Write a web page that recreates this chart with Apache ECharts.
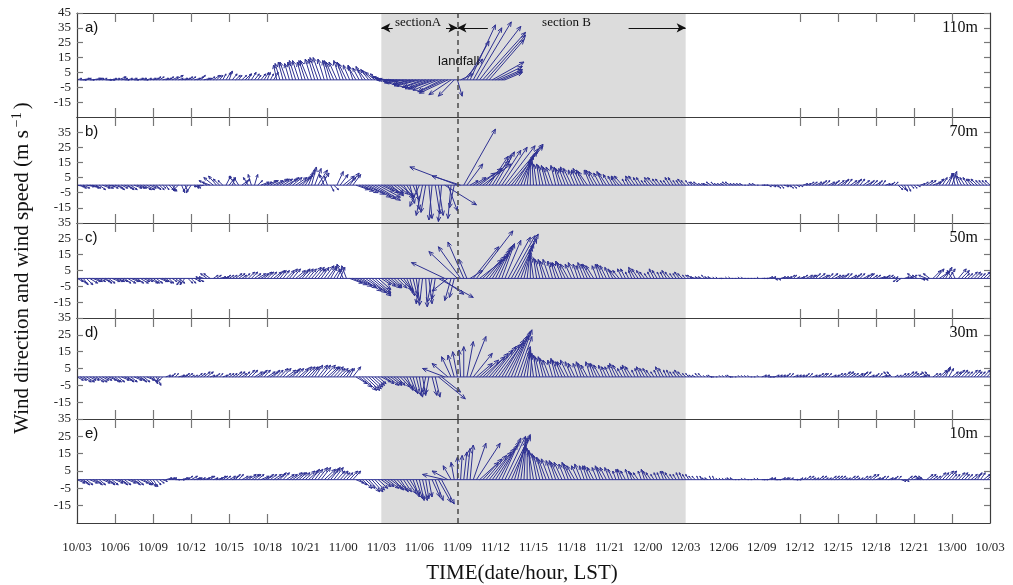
<!DOCTYPE html>
<html>
<head>
<meta charset="utf-8">
<script src="https://cdn.jsdelivr.net/npm/echarts@6/dist/echarts.min.js"></script>
<style>
  html, body { margin: 0; padding: 0; background: #fff; }
  #chart { width: 1013px; height: 585px; }
</style>
</head>
<body>
<div id="chart"></div>
<script>
// Time runs in hours from 10/03 LST; one wind record every 15 minutes.
const STEP_HOURS = 0.25;
const TICK_LABELS = ['10/03','10/06','10/09','10/12','10/15','10/18','10/21','11/00','11/03','11/06','11/09','11/12',
  '11/15','11/18','11/21','12/00','12/03','12/06','12/09','12/12','12/15','12/18','12/21','13/00','10/03'];
const TICK_MARK_HOURS = [3, 6, 9, 12, 15, 57, 60, 63, 66, 69];
const SECTION_A_HOURS = [24, 30];
const SECTION_B_HOURS = [30, 48];
const LANDFALL_HOUR = 30;
const HEIGHT_NAMES = ['110m', '70m', '50m', '30m', '10m'];
const PANEL_TAGS = ['a)', 'b)', 'c)', 'd)', 'e)'];
const Y_TICKS_TALL = [-15, -5, 5, 15, 25, 35, 45];
const Y_TICKS = [-15, -5, 5, 15, 25, 35];

// u (east) and v (north) wind components in m/s, one row per 6 hours
// 110 m (record stops after 11/12)
const U110 = [
  3,4,4,3,3,5,4,3,3,4,4,3,3,5,4,3,3,4,3,4,4,3,3,4,
  4,3,3,4,4,3,4,5,3,4,4,3,3,4,4,3,4,3,3,4,3,2,2,3,
  2,3,3,2,3,4,2,3,3,2,3,3,2,2,3,-2,-3,-3,-4,-3,-3,-4,-4,-3,
  -4,-5,-4,-4,-5,-5,-4,-3,-4,-5,-5,-4,-4,-5,-4,-3,-5,-4,-4,-5,-5,-6,-6,-5,
  -6,-7,-8,-9,-10,-9,-10,-12,-12,-11,-12,-14,-14,-13,-14,-15,-15,-16,-16,-15,-16,-18,-14,-10,
  3,8,12,14,16,18,22,26,27,25,22,20,17,15,13,11];
const V110 = [
  1,0,1,1,0,1,1,1,1,0,0,1,1,2,1,0,1,1,0,1,1,0,1,1,
  1,2,2,1,1,2,2,3,1,1,1,2,2,1,2,3,1,1,2,3,3,3,4,5,
  6,4,3,3,3,4,4,5,4,3,4,5,5,4,5,10,11,12,12,11,12,13,13,12,
  13,13,14,14,15,15,14,13,13,12,12,13,12,11,10,10,9,8,9,7,7,6,5,4,
  2,2,1,0,0,-1,-1,-2,-2,-3,-3,-4,-4,-5,-5,-6,-6,-6,-7,-8,-8,-9,-10,-11,
  -11,4,14,26,37,35,39,36,32,30,27,12,9,7,6,5];

// 70 m
const U70 = [
  5,4,4,5,5,4,3,4,5,5,4,4,5,4,4,5,4,4,5,5,4,5,5,4,
  4,3,3,2,2,4,3,-2,-3,2,2,-3,-3,3,2,-4,-4,-5,-5,-6,-5,-4,-3,3,
  3,2,-4,-3,4,3,-3,-2,2,3,5,5,6,5,6,7,6,6,7,6,6,7,7,6,
  5,4,3,4,6,5,-3,-2,2,3,4,5,7,6,6,5,8,9,10,12,14,15,16,14,
  8,9,10,8,6,7,8,6,5,3,4,2,-6,-4,-3,2,-2,3,3,-2,20,6,-2,-3,
  -30,-18,20,10,5,8,12,14,18,15,12,12,12,14,16,19,22,20,15,12,8,5,2,0,
  -1,-2,-2,-3,-3,-4,-4,-3,-3,-4,-4,-5,-5,-4,-4,-5,-5,-6,-4,-5,-5,-4,-4,-5,
  -4,-3,-3,-5,-5,-2,-2,-4,-4,-3,-3,-2,-2,-4,-4,-3,-3,-2,-2,-3,-3,-2,-2,-3,
  -3,-2,-2,-3,-3,-2,-2,-3,-3,-2,-2,-2,-2,-3,-3,-2,-2,-2,-2,-1,-1,-2,-2,-1,
  2,2,2,3,3,2,2,3,3,2,2,2,2,3,3,3,3,4,4,3,3,4,4,3,
  4,4,3,3,4,4,3,3,4,4,3,3,3,2,2,3,3,2,2,3,3,2,2,2,
  2,2,3,3,4,4,5,5,3,3,4,3,3,-2,-2,-3,-3,-3,-3,-4,-4,-3,-3,-3,
  -3];
const V70 = [
  -1,-2,-2,-1,-1,-2,-2,-3,-2,-2,-1,-2,-2,-3,-2,-2,-3,-3,-2,-2,-2,-3,-3,-2,
  -2,-3,-3,-2,-3,-4,-4,-3,-3,-5,-4,-4,-5,-2,-2,-1,-1,3,2,5,6,4,3,6,
  4,5,6,5,3,4,5,7,7,3,2,2,3,3,3,4,4,4,4,5,5,5,5,6,
  8,10,12,11,10,8,7,6,-4,-3,9,7,6,5,8,7,-3,-4,-5,-6,-8,-9,-10,-8,
  -4,-5,-6,-7,-5,-6,-7,-9,-8,-12,-10,-16,-14,-20,-18,-22,-23,-19,-20,-24,-13,-17,-22,-15,
  12,6,37,14,3,5,8,11,14,16,19,20,22,23,25,26,27,26,24,22,20,18,17,16,
  15,14,14,13,13,12,12,13,12,11,11,12,11,10,10,11,10,9,10,10,9,8,9,8,
  7,6,5,6,6,4,4,6,6,5,5,3,3,5,5,4,4,3,3,5,5,3,3,4,
  3,3,2,2,2,1,1,1,2,2,1,1,1,2,2,1,1,1,1,0,0,1,1,0,
  0,0,-1,-1,-1,-2,-2,-1,-1,-2,-2,-1,-1,1,1,2,2,2,2,3,3,2,2,3,
  3,3,4,4,3,3,4,4,3,2,3,3,2,3,3,1,1,2,2,-3,-3,-4,-4,-2,
  -2,-1,1,2,3,3,2,4,4,5,6,8,9,8,7,6,5,5,4,4,4,3,3,3,
  3];

// 50 m
const U50 = [
  4,4,3,4,5,5,4,4,5,4,4,5,5,4,4,4,5,5,4,4,5,4,4,5,
  4,4,5,4,4,3,3,4,4,-3,-3,3,3,4,4,-3,-3,-4,-4,3,3,4,4,3,
  3,3,4,4,3,3,4,4,4,5,5,5,4,4,5,5,4,4,5,5,5,6,6,5,
  5,5,6,6,5,5,6,6,4,4,3,3,-4,-3,8,9,10,11,12,13,14,12,10,8,
  6,7,8,7,5,6,7,6,4,3,3,2,-2,-2,1,2,-3,-2,22,14,-21,-10,-4,-3,
  -18,-14,-10,-5,8,16,23,18,12,12,12,11,10,9,8,10,14,15,15,12,8,5,2,0,
  -2,-2,-3,-3,-4,-4,-3,-3,-4,-4,-5,-5,-4,-4,-3,-3,-4,-4,-5,-5,-3,-3,-4,-4,
  -3,-3,-4,-4,-3,-3,-2,-2,-4,-4,-3,-3,-2,-2,-3,-3,-2,-2,-3,-3,-2,-2,-3,-3,
  -2,-2,-3,-3,-2,-2,-2,-2,-2,-1,-1,-1,-2,-1,-1,-1,-1,-1,-1,-1,-1,-1,-1,-1,
  2,2,3,3,2,2,3,3,3,3,2,2,3,3,4,4,3,3,4,4,3,3,4,4,
  4,4,3,3,4,4,3,3,4,4,3,3,3,4,4,3,3,2,2,-3,-3,3,3,4,
  -4,-3,3,3,-5,-4,5,5,6,5,4,4,-3,-2,5,5,3,3,4,4,3,3,4,4,
  3];
const V50 = [
  -2,-3,-4,-4,-3,-2,-2,-2,-2,-3,-3,-2,-2,-2,-2,-3,-3,-2,-2,-3,-3,-2,-2,-3,
  -3,-3,-2,-2,-3,-3,-2,-3,-3,-4,-4,-3,-3,-2,-2,1,1,3,3,2,2,1,1,2,
  2,2,3,3,2,3,4,4,3,3,3,4,4,4,4,5,5,5,5,6,6,5,5,6,
  6,6,7,7,6,7,8,8,7,6,6,7,9,8,-3,-4,-5,-6,-8,-9,-11,-10,-9,-7,
  -4,-5,-6,-6,-5,-6,-7,-8,-9,-11,-12,-14,-16,-17,-18,-16,-15,-13,-12,-10,10,-8,-14,-12,
  17,20,23,12,5,20,30,14,12,14,16,18,20,21,22,24,26,27,28,25,22,20,18,16,
  14,13,12,12,11,12,11,10,10,11,10,9,9,10,9,8,10,9,9,8,8,9,9,8,
  7,6,5,5,6,6,4,5,7,6,5,4,3,4,6,5,4,4,5,4,3,3,4,3,
  2,2,2,1,1,1,2,1,1,1,1,0,0,1,1,0,0,1,1,0,0,0,0,1,
  0,0,1,1,-1,-1,1,1,1,2,2,1,1,2,2,2,2,3,3,2,2,3,3,2,
  2,2,3,3,2,2,3,3,2,3,3,2,2,1,1,2,2,1,1,-2,-2,1,1,2,
  3,2,-1,-1,2,3,5,6,4,5,7,6,5,4,6,5,3,3,4,4,3,3,4,4,
  3];

// 30 m
const U30 = [
  4,4,5,5,4,4,5,5,4,4,5,5,4,4,5,5,4,4,5,5,4,4,5,5,
  3,3,-2,-2,3,3,2,2,4,4,3,3,2,2,3,3,4,4,3,3,2,2,3,3,
  3,3,4,4,3,3,4,4,5,5,4,4,5,5,4,4,5,5,6,6,5,5,6,6,
  6,6,5,5,6,6,7,7,6,6,5,5,4,4,3,5,7,8,9,9,8,7,6,5,
  6,6,7,7,5,5,6,6,4,4,3,3,2,2,-2,-2,3,3,17,12,-14,-10,-6,-4,
  -3,-1,0,4,10,12,10,12,14,14,15,15,15,15,14,14,13,12,11,9,6,4,2,1,
  -2,-2,-3,-3,-4,-4,-3,-3,-4,-4,-5,-5,-4,-4,-3,-3,-4,-4,-3,-3,-4,-4,-3,-3,
  -3,-3,-4,-4,-3,-3,-4,-4,-2,-2,-3,-3,-3,-3,-2,-2,-3,-3,-2,-2,-2,-2,-3,-3,
  -2,-2,-2,-2,-2,-2,-1,-1,-2,-2,-1,-1,-1,-1,-2,-2,-1,-1,-1,-1,-1,-1,-1,-1,
  3,3,2,2,3,3,3,3,2,2,3,3,3,3,2,2,3,3,3,3,2,2,3,3,
  3,3,4,4,3,3,4,4,3,3,3,3,2,2,3,3,-3,-3,2,2,3,3,4,4,
  3,3,4,4,-3,-3,3,3,5,5,3,3,4,4,4,4,3,3,4,4,3,3,4,4,
  3];
const V30 = [
  -2,-2,-3,-3,-2,-2,-3,-3,-2,-2,-2,-3,-3,-3,-2,-2,-3,-3,-2,-2,-3,-3,-2,-3,
  -4,-5,-3,-2,1,1,2,2,1,1,2,2,1,1,2,2,3,3,1,1,2,2,1,2,
  2,2,3,3,2,3,4,4,3,3,4,4,3,3,4,4,5,5,4,4,5,5,5,6,
  6,6,6,7,7,7,7,6,6,6,5,5,4,5,5,6,-4,-6,-8,-8,-7,-6,-5,-4,
  -3,-4,-5,-5,-4,-5,-6,-7,-8,-9,-10,-11,-12,-11,-9,-10,-11,-12,-13,-9,5,8,12,13,
  15,16,18,21,24,14,8,10,12,14,16,18,19,20,22,24,25,27,28,24,18,16,15,14,
  14,13,12,12,11,10,10,11,10,9,9,10,9,8,8,9,8,7,9,8,8,7,7,6,
  6,7,8,7,5,6,7,6,4,5,6,5,5,4,3,4,6,5,4,4,3,3,4,3,
  2,2,1,1,2,2,1,1,1,0,0,1,1,1,1,0,0,1,1,1,1,0,0,1,
  1,1,0,0,1,1,1,1,2,2,1,1,1,1,2,2,1,1,2,2,2,2,1,1,
  2,2,3,3,2,2,2,2,3,3,1,1,2,2,1,1,3,3,1,1,2,2,3,3,
  2,2,1,1,3,3,2,2,4,5,6,5,3,3,4,4,3,3,4,4,3,3,4,4,
  3];

// 10 m
const U10 = [
  5,5,4,4,5,5,4,4,5,5,4,4,5,5,4,4,5,5,4,4,5,5,4,4,
  3,3,3,3,4,4,3,3,4,4,3,3,4,4,3,3,4,4,3,3,4,4,3,3,
  4,4,3,3,4,4,5,5,4,4,5,5,4,4,5,5,4,4,5,5,6,6,5,5,
  6,6,5,5,6,6,7,7,6,6,5,5,4,4,5,5,5,5,6,6,7,7,6,6,
  6,6,7,7,6,6,5,5,6,6,4,4,3,3,2,2,5,5,8,8,-14,-10,-5,-2,
  0,1,2,2,2,8,15,12,12,13,14,14,14,13,12,13,14,12,8,5,3,1,0,-1,
  -3,-3,-4,-4,-5,-5,-4,-4,-5,-5,-4,-4,-5,-5,-4,-4,-3,-3,-4,-4,-3,-3,-4,-4,
  -3,-3,-2,-2,-3,-3,-2,-2,-3,-3,-2,-2,-3,-3,-2,-2,-2,-2,-3,-3,-2,-2,-2,-2,
  -2,-2,-2,-2,-1,-1,-2,-2,-1,-1,-1,-1,-1,-1,-2,-2,-1,-1,-1,-1,-1,-1,-1,-1,
  2,2,3,3,2,2,3,3,2,2,3,3,2,2,3,3,2,2,3,3,2,2,3,3,
  3,3,2,2,3,3,2,2,3,3,4,4,3,3,2,2,3,3,2,2,3,3,3,3,
  3,3,-3,-3,4,4,3,3,4,4,5,5,3,3,4,4,3,3,4,4,3,3,4,4,
  3];
const V10 = [
  -2,-2,-3,-3,-2,-2,-3,-3,-2,-2,-3,-3,-2,-2,-3,-3,-2,-2,-3,-3,-2,-3,-3,-4,
  -4,-3,-2,-1,1,1,1,0,0,1,1,2,2,1,1,1,1,2,2,1,1,2,2,2,
  2,2,3,3,2,2,3,3,3,3,2,2,3,3,3,3,4,4,3,3,4,4,4,4,
  5,5,6,6,7,7,6,6,7,7,5,5,4,4,5,5,-2,-3,-5,-5,-7,-7,-6,-5,
  -4,-4,-5,-5,-6,-6,-7,-7,-8,-9,-10,-11,-12,-12,-11,-10,-10,-12,-13,-14,3,5,8,10,
  13,14,16,18,20,21,21,10,12,14,16,18,20,22,24,25,26,25,24,22,20,19,18,17,
  16,15,14,13,12,12,11,11,10,10,9,10,9,8,8,9,8,8,8,7,7,8,7,7,
  7,6,5,6,6,5,6,5,4,4,5,6,5,4,3,4,4,5,5,4,3,3,4,4,
  3,3,2,2,2,2,1,1,2,2,1,1,1,1,1,1,0,0,1,1,0,0,1,1,
  0,0,1,1,0,0,1,1,1,1,0,0,1,1,2,2,1,1,2,2,1,1,2,2,
  2,2,1,1,2,2,1,1,2,2,3,3,1,1,2,2,1,1,2,2,-1,-1,2,2,
  1,1,2,2,3,3,2,2,4,4,5,5,3,3,4,4,3,3,3,3,4,4,3,3,
  3];

// ---- drawing ----
const HOURS_MAX = (TICK_LABELS.length - 1) * 3;
const LABEL_HOURS = TICK_LABELS.map((_, k) => k * 3);
const U_TO_HOURS = 0.125;          // horizontal extent of a stick per m/s, in hours
const NAVY = '#2e3192';
const SERIF = '"Liberation Serif", "Times New Roman", serif';
const SANS = '"Liberation Sans", Arial, sans-serif';

const PANELS = [
  { u: U110, v: V110, min: -25, max: 45, ticks: Y_TICKS_TALL },
  { u: U70,  v: V70,  min: -25, max: 45, ticks: Y_TICKS },
  { u: U50,  v: V50,  min: -25, max: 35, ticks: Y_TICKS },
  { u: U30,  v: V30,  min: -25, max: 35, ticks: Y_TICKS },
  { u: U10,  v: V10,  min: -25, max: 35, ticks: Y_TICKS }
];
const LAYOUT = { left: 77, width: 913, tops: [13, 117, 223, 318, 419], heights: [104, 106, 95, 101, 104] };

function stickRenderer(params, api) {
  const t = api.value(0), u = api.value(1), v = api.value(2);
  const p0 = api.coord([t, 0]);
  const p1 = api.coord([t + u * U_TO_HOURS, v]);
  const dx = p1[0] - p0[0], dy = p1[1] - p0[1];
  const len = Math.hypot(dx, dy);
  const children = [{
    type: 'line',
    shape: { x1: p0[0], y1: p0[1], x2: p1[0], y2: p1[1] },
    style: { stroke: NAVY, lineWidth: 1 }
  }];
  if (len > 3) {
    const head = Math.min(5, len * 0.28);
    const ang = Math.atan2(dy, dx), spread = 0.4;
    children.push({
      type: 'polyline',
      shape: { points: [
        [p1[0] - head * Math.cos(ang - spread), p1[1] - head * Math.sin(ang - spread)],
        [p1[0], p1[1]],
        [p1[0] - head * Math.cos(ang + spread), p1[1] - head * Math.sin(ang + spread)]
      ] },
      style: { stroke: NAVY, lineWidth: 1, fill: null }
    });
  }
  return { type: 'group', children };
}

const option = {
  animation: false,
  backgroundColor: '#ffffff',
  grid: LAYOUT.tops.map((top, i) => ({ left: LAYOUT.left, width: LAYOUT.width, top, height: LAYOUT.heights[i], show: false })),
  xAxis: [], yAxis: [], series: [], graphic: []
};

const axisLineStyle = { color: '#3c3c3c', width: 1.2 };
const tickLineStyle = { color: '#777777', width: 1.2 };

PANELS.forEach((p, i) => {
  const last = i === PANELS.length - 1;
  ['bottom', 'top'].forEach(pos => option.xAxis.push({
    type: 'value', gridIndex: i, position: pos, min: 0, max: HOURS_MAX, interval: 3, z: 5,
    axisLine: { show: true, onZero: false, lineStyle: axisLineStyle },
    axisTick: { show: true, inside: true, length: 9, customValues: TICK_MARK_HOURS, lineStyle: tickLineStyle },
    axisLabel: {
      show: last && pos === 'bottom', customValues: LABEL_HOURS, showMinLabel: true, showMaxLabel: true,
      formatter: val => TICK_LABELS[Math.round(val / 3)],
      margin: 18, fontFamily: SERIF, fontSize: 13, color: '#222'
    },
    splitLine: { show: false }
  }));
  ['left', 'right'].forEach(pos => option.yAxis.push({
    type: 'value', gridIndex: i, position: pos, min: p.min, max: p.max, interval: 10, z: 5,
    axisLine: { show: true, onZero: false, lineStyle: axisLineStyle },
    axisTick: { show: true, inside: true, length: 6, customValues: p.ticks, lineStyle: tickLineStyle },
    axisLabel: { show: pos === 'left', customValues: p.ticks, margin: 6, fontFamily: SERIF, fontSize: 13, color: '#222' },
    splitLine: { show: false }
  }));

  const xi = 2 * i, yi = 2 * i;
  const records = p.u.map((u, k) => [k * STEP_HOURS, u, p.v[k]]);
  const lastHour = (p.u.length - 1) * STEP_HOURS;

  // shaded typhoon window (section A + section B)
  option.series.push({
    type: 'line', xAxisIndex: xi, yAxisIndex: yi, z: 1, silent: true, symbol: 'none',
    data: [[0, 0]], lineStyle: { width: 0 },
    markArea: { silent: true, itemStyle: { color: '#dcdcdc' },
      data: [[{ xAxis: SECTION_A_HOURS[0] }, { xAxis: SECTION_B_HOURS[1] }]] }
  });
  // wind sticks, clipped to the panel frame
  option.series.push({
    type: 'custom', xAxisIndex: xi, yAxisIndex: yi, z: 3, silent: true, clip: true,
    encode: { x: 0, y: 2 }, data: records, renderItem: stickRenderer
  });
  // zero line under the sticks + landfall marker
  option.series.push({
    type: 'line', xAxisIndex: xi, yAxisIndex: yi, z: 4, silent: true, symbol: 'none',
    data: [[0, 0], [lastHour, 0]], lineStyle: { color: NAVY, width: 1 },
    markLine: { silent: true, symbol: 'none', label: { show: false },
      lineStyle: { color: '#4a4a4a', width: 1.5, type: [5, 4] },
      data: [{ xAxis: LANDFALL_HOUR }] }
  });

  option.graphic.push({
    type: 'text', left: 85, top: LAYOUT.tops[i] + 7,
    style: { text: PANEL_TAGS[i], fontFamily: SANS, fontSize: 15, fill: '#111' }, z: 10
  });
  option.graphic.push({
    type: 'text', right: 1013 - 978, top: LAYOUT.tops[i] + 7,
    style: { text: HEIGHT_NAMES[i], fontFamily: SERIF, fontSize: 16, fill: '#111' }, z: 10
  });
});

// section arrows and landfall label in the top panel
option.series.push({
  type: 'line', xAxisIndex: 0, yAxisIndex: 0, z: 6, silent: true, symbol: 'none',
  data: [[0, 0]], lineStyle: { width: 0 },
  markLine: {
    silent: true, symbolSize: [7, 9], label: { show: false },
    lineStyle: { color: '#111', width: 1, type: 'solid' },
    data: [
      [{ coord: [SECTION_A_HOURS[0], 35], symbol: 'arrow' }, { coord: [SECTION_A_HOURS[0] + 0.9, 35], symbol: 'none' }],
      [{ coord: [SECTION_A_HOURS[1] - 0.9, 35], symbol: 'none' }, { coord: [SECTION_A_HOURS[1], 35], symbol: 'arrow' }],
      [{ coord: [SECTION_B_HOURS[0], 35], symbol: 'arrow' }, { coord: [SECTION_B_HOURS[0] + 2.4, 35], symbol: 'none' }],
      [{ coord: [SECTION_B_HOURS[1] - 4.5, 35], symbol: 'none' }, { coord: [SECTION_B_HOURS[1], 35], symbol: 'arrow' }]
    ]
  },
  markPoint: {
    silent: true, symbolSize: 0,
    data: [
      { coord: [26.9, 38.5], label: { show: true, formatter: 'sectionA', fontFamily: SERIF, fontSize: 13, color: '#111' } },
      { coord: [38.6, 38.5], label: { show: true, formatter: 'section B', fontFamily: SERIF, fontSize: 13, color: '#111' } },
      { coord: [LANDFALL_HOUR + 0.1, 12.5], label: { show: true, formatter: 'landfall', fontFamily: SANS, fontSize: 13, color: '#111' } }
    ]
  }
});

option.graphic.push({
  type: 'text', x: 22, y: 268, rotation: Math.PI / 2, z: 10,
  style: {
    text: 'Wind direction and wind speed (m s{sup|\u22121})',
    fontFamily: SERIF, fontSize: 21, fill: '#111', align: 'center', verticalAlign: 'middle',
    rich: { sup: { fontFamily: SERIF, fontSize: 14, verticalAlign: 'top', padding: [0, 3, 10, 3] } }
  }
});
option.graphic.push({
  type: 'text', x: 522, y: 573, z: 10,
  style: { text: 'TIME(date/hour, LST)', fontFamily: SERIF, fontSize: 21, fill: '#111', align: 'center', verticalAlign: 'middle' }
});

const chart = echarts.init(document.getElementById('chart'), null, { renderer: 'canvas' });
chart.setOption(option);
</script>
</body>
</html>
